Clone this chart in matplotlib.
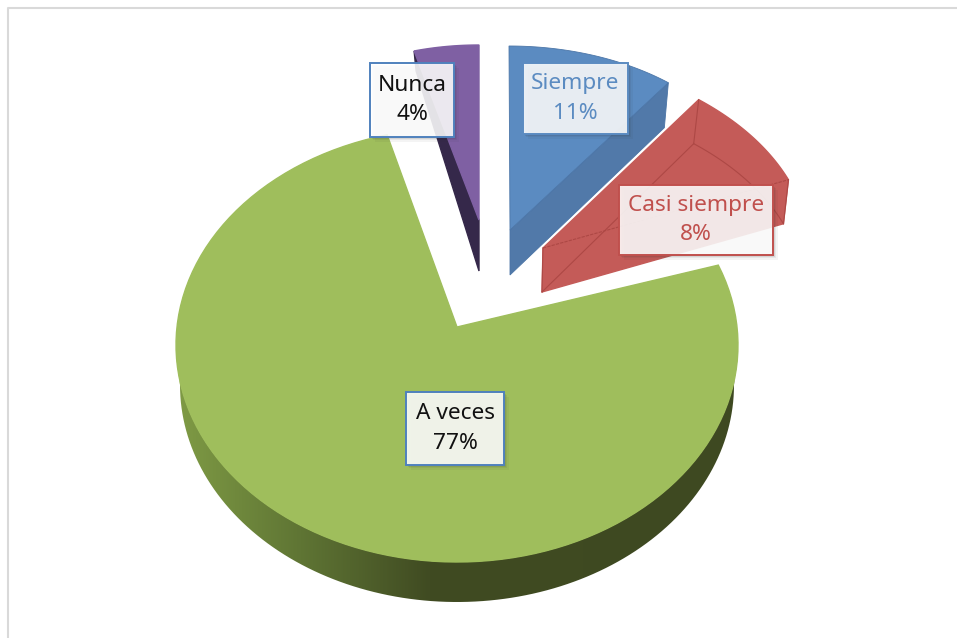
import numpy as np
import matplotlib
matplotlib.use("Agg")
import matplotlib.pyplot as plt
from matplotlib.colors import LinearSegmentedColormap
from matplotlib.patches import Polygon, Rectangle

# chart values
categories = ["Siempre", "Casi siempre", "A veces", "Nunca"]
values = [11, 8, 77, 4]

plt.rcParams['font.family'] = ['Noto Sans', 'DejaVu Sans']

# slice angles measured clockwise from the top, in degrees
ends = np.cumsum(values) * 3.6
starts = ends - np.array(values) * 3.6


def rim(a0, a1, cx, cy, rx, ry):
    t = np.radians(np.linspace(a0, a1, 120))
    return np.column_stack([cx + rx * np.sin(t), cy - ry * np.cos(t)])


fig = plt.figure(figsize=(9.57, 6.38), dpi=100)
ax = fig.add_axes([0, 0, 1, 1])
ax.set_xlim(0, 957)
ax.set_ylim(638, 0)
ax.axis("off")

# chart frame
ax.plot([957, 8, 8], [8, 8, 638], color="#d9d9d9", lw=1.5)

# nunca: left here because it sits behind the others
a0, a1 = starts[3] - 360, ends[3] - 360
edge = rim(a0, a1, 479, 235, 261, 190)
top_apex = (479, 220)
low_apex = (479, 271)
ax.add_patch(Polygon([edge[0], top_apex, low_apex, edge[0] + [2, 20]], color="#35284a", zorder=2))
ax.add_patch(Polygon(np.vstack([edge, [top_apex]]), color="#7f60a3", zorder=3))

# siempre
edge = rim(starts[0], ends[0], 509, 206, 250, 160)
top_apex = np.array([510, 230])
low_apex = np.array([510, 275])
ax.add_patch(Polygon([edge[-1], top_apex, low_apex, edge[-1] + [-4, 45]], fc="#5179a9", ec="#4a74a6", lw=0.6, zorder=2))
ax.add_patch(Polygon(np.vstack([edge, [top_apex]]), fc="#5b8bc1", ec="#4c76a8", lw=0.6, zorder=3))

# casi siempre
edge = rim(starts[1], ends[1], 503, 253, 307, 199)
top_apex = np.array([543, 248])
low_apex = np.array([542, 292])
shift = np.array([-5, 44])
outline = np.vstack([[top_apex], edge, [edge[-1] + shift], [low_apex]])
ax.add_patch(Polygon(outline, color="#c45b58", zorder=2))
line = "#ad4845"
ax.plot(*np.column_stack([top_apex, edge[-1]]), color=line, lw=0.8, ls=(0, (3, 1)), zorder=3)
ax.plot(*np.column_stack([low_apex, edge[0] + shift]), color=line, lw=0.8, zorder=3)
ax.plot(*np.column_stack([edge[0], edge[0] + shift]), color=line, lw=0.8, zorder=3)
ax.plot(*(edge + shift).T, color=line, lw=0.8, zorder=3)
ax.plot(*np.column_stack([edge[-1], edge[-1] + shift]), color=line, lw=0.8, zorder=3)
ax.plot(*np.column_stack([top_apex, low_apex]), color=line, lw=0.8, zorder=3)

# a veces: side band with gradient, then top face
a0, a1 = starts[2], ends[2]
side = np.vstack([rim(90, 270, 457, 385, 277, 217), rim(270, 90, 457, 345, 281, 217)])
cmap = LinearSegmentedColormap.from_list("side", [(0, "#7f9b45"), (0.22, "#5f7534"),
                                                  (0.45, "#404b22"), (1, "#3e4921")])
side_clip = Polygon(side, transform=ax.transData, fc="none", ec="none")
ax.add_patch(side_clip)
grad = ax.imshow(np.linspace(0, 1, 256)[None, :], extent=(176, 739, 610, 340), cmap=cmap,
                 aspect="auto", zorder=4)
grad.set_clip_path(side_clip)
ax.set_xlim(0, 957)
ax.set_ylim(638, 0)
edge = rim(a0, a1, 457, 345, 281, 217)
ax.add_patch(Polygon(np.vstack([edge, [(457, 327)]]), color="#9fbe5c", zorder=5))

# data labels
boxes = [(523, 63, 105, 71, "#5b8bc1"), (619, 185, 154, 70, "#c0504d"),
         (406, 392, 98, 73, "#4f81bd"), (370, 63, 84, 74, "#4f81bd")]
text_colors = ["#5b8bc1", "#c0504d", "#111111", "#111111"]
for name, val, (x, y, w, h, ec), tc in zip(categories, values, boxes, text_colors):
    for off, al in [(5, 0.05), (3, 0.07), (1.5, 0.1)]:
        ax.add_patch(Rectangle((x + off, y + off), w, h, fc="#303030", ec="none", alpha=al, zorder=6))
    ax.add_patch(Rectangle((x, y), w, h, fc="white", ec="none", alpha=0.87, zorder=7))
    ax.add_patch(Rectangle((x, y), w, h, fc="none", ec=ec, lw=1.4, zorder=8))
    ax.text(x + w / 2, y + h / 2, f"{name}\n{val}%", ha="center", va="center", color=tc,
            fontsize=16.3, linespacing=1.55, zorder=9)

fig.savefig("out.png", dpi=100)
